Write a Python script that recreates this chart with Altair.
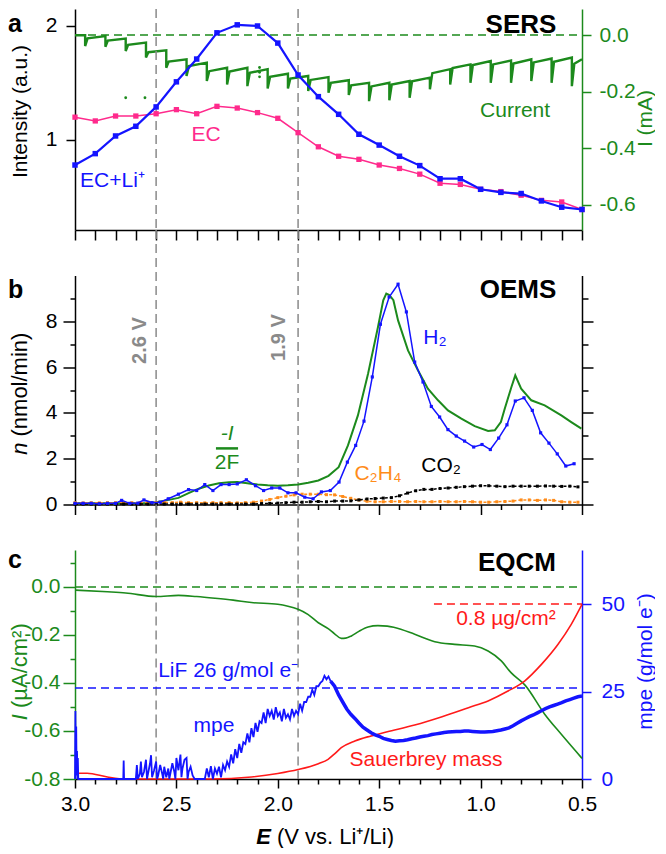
import altair as alt
import pandas as pd

FONT = "Liberation Sans, Arial, Helvetica, sans-serif"
BLUE = "#1414ff"
PINK = "#ff2a8c"
GREEN = "#1c8a1c"
ORANGE = "#ff8c1a"
RED = "#ff1a1a"
GRAY = "#8a8a8a"
BLACK = "#000000"

W = 507
HA = 221
HB = 229
HC = 229

# ---------------- data ----------------
x_ticks = [3.0, 2.9, 2.8, 2.7, 2.6, 2.5, 2.4, 2.3, 2.2, 2.1, 2.0, 1.9, 1.8, 1.7, 1.6,
           1.5, 1.4, 1.3, 1.2, 1.1, 1.0, 0.9, 0.8, 0.7, 0.6, 0.5]
marker_lines = [2.6, 1.9]

# panel a: SERS
sers_v = [3.0, 2.9, 2.8, 2.7, 2.6, 2.5, 2.4, 2.3, 2.2, 2.1, 2.0, 1.9, 1.8, 1.7, 1.6,
          1.5, 1.4, 1.3, 1.2, 1.1, 1.0, 0.9, 0.8, 0.7, 0.6, 0.5]
sers_ec_li = [0.78, 0.88, 1.035, 1.12, 1.29, 1.51, 1.71, 1.94, 2.01, 2.00, 1.85, 1.57, 1.38,
              1.225, 1.05, 0.955, 0.857, 0.775, 0.66, 0.66, 0.567, 0.54, 0.53, 0.465, 0.41, 0.39]
sers_ec = [1.20, 1.167, 1.21, 1.21, 1.23, 1.266, 1.23, 1.295, 1.28, 1.24, 1.19, 1.064, 0.94,
           0.857, 0.83, 0.78, 0.75, 0.70, 0.62, 0.61, 0.567, 0.547, 0.515, 0.47, 0.456, 0.39]

# panel a: stepped current (spike at each step, recovery, end of step), mA
cur_start = -0.001
step_v = [2.95, 2.85, 2.75, 2.65, 2.55, 2.45, 2.35, 2.25, 2.15, 2.05, 1.95, 1.85, 1.75,
          1.65, 1.55, 1.45, 1.35, 1.25, 1.15, 1.05, 0.95, 0.85, 0.75, 0.65, 0.55]
step_low = [-0.039, -0.042, -0.057, -0.080, -0.116, -0.145, -0.163, -0.175, -0.181, -0.189,
            -0.189, -0.198, -0.204, -0.212, -0.234, -0.231, -0.222, -0.192, -0.175, -0.169,
            -0.169, -0.169, -0.163, -0.169, -0.181]
step_rec = [-0.012, -0.020, -0.035, -0.061, -0.094, -0.110, -0.128, -0.129, -0.134, -0.148,
            -0.154, -0.159, -0.169, -0.178, -0.182, -0.175, -0.164, -0.135, -0.117, -0.106,
            -0.104, -0.101, -0.097, -0.095, -0.102]
step_end = [-0.004, -0.013, -0.027, -0.054, -0.086, -0.098, -0.116, -0.116, -0.121, -0.137,
            -0.145, -0.149, -0.160, -0.169, -0.169, -0.163, -0.151, -0.121, -0.104, -0.092,
            -0.090, -0.086, -0.083, -0.080, -0.086]
REC_DV = 0.012
stray_v = [2.75, 2.655, 2.09, 2.09, 2.09]
stray_i = [-0.222, -0.222, -0.115, -0.132, -0.148]

# panel b: OEMS
flux_v = [3.00, 2.80, 2.65, 2.60, 2.55, 2.49, 2.44, 2.39, 2.34, 2.29, 2.24, 2.20, 2.15, 2.10,
          2.05, 2.00, 1.95, 1.90, 1.85, 1.80, 1.75, 1.70, 1.654, 1.605, 1.555, 1.506, 1.48,
          1.465, 1.45, 1.43, 1.407, 1.358, 1.309, 1.26, 1.21, 1.161, 1.095, 1.029, 0.963,
          0.93, 0.90, 0.881, 0.848, 0.829, 0.80, 0.75, 0.684, 0.602, 0.553, 0.503]
flux_n = [0.05, 0.05, 0.07, 0.10, 0.18, 0.29, 0.50, 0.69, 0.83, 0.93, 0.97, 0.98, 0.93, 0.87,
          0.84, 0.82, 0.84, 0.87, 0.95, 1.05, 1.25, 1.63, 2.58, 3.89, 5.71, 7.75, 8.92, 9.21,
          9.15, 8.92, 8.04, 6.73, 5.86, 5.06, 4.55, 4.11, 3.75, 3.42, 3.21, 3.24, 3.6, 4.18,
          5.13, 5.64, 5.06, 4.55, 4.33, 3.89, 3.6, 3.31]
h2_v = [3.00, 2.96, 2.92, 2.88, 2.84, 2.80, 2.77, 2.73, 2.69, 2.66, 2.62, 2.58, 2.54, 2.49,
        2.44, 2.40, 2.36, 2.32, 2.28, 2.24, 2.20, 2.155, 2.11, 2.07, 2.03, 1.99, 1.95, 1.91,
        1.867, 1.826, 1.785, 1.741, 1.698, 1.657, 1.616, 1.575, 1.534, 1.494, 1.451, 1.407,
        1.366, 1.325, 1.284, 1.243, 1.202, 1.161, 1.12, 1.079, 1.034, 0.993, 0.952, 0.911,
        0.870, 0.829, 0.786, 0.745, 0.704, 0.663, 0.622, 0.580, 0.539]
h2_n = [0.05, 0.05, 0.05, 0.03, 0.05, 0.05, 0.18, 0.05, 0.06, 0.2, 0.08, 0.1, 0.25, 0.45,
        0.65, 0.61, 0.87, 0.61, 0.87, 0.87, 0.9, 1.08, 0.82, 0.61, 0.72, 0.72, 0.51, 0.51,
        0.32, 0.25, 0.55, 0.61, 0.98, 1.85, 2.58, 3.64, 5.57, 7.87, 9.06, 9.62, 8.41, 6.22,
        5.35, 4.28, 3.82, 3.27, 2.99, 2.77, 2.51, 2.62, 2.40, 2.90, 3.48, 4.52, 4.66, 4.11,
        3.13, 2.68, 2.21, 1.68, 1.78]
gas_v = [3.00, 2.96, 2.92, 2.88, 2.84, 2.80, 2.76, 2.72, 2.68, 2.64, 2.60, 2.56, 2.52, 2.48,
         2.44, 2.40, 2.36, 2.32, 2.28, 2.24, 2.20, 2.16, 2.12, 2.08, 2.04, 2.00, 1.96, 1.92,
         1.88, 1.84, 1.80, 1.76, 1.72, 1.68, 1.64, 1.60, 1.56, 1.52, 1.48, 1.44, 1.40, 1.36,
         1.32, 1.28, 1.24, 1.20, 1.16, 1.12, 1.08, 1.04, 1.00, 0.96, 0.92, 0.88, 0.84, 0.80,
         0.76, 0.72, 0.68, 0.64, 0.60, 0.56, 0.52]
c2h4_n = [0.08, 0.07, 0.08, 0.07, 0.08, 0.08, 0.07, 0.08, 0.08, 0.1, 0.08, 0.1, 0.08, 0.1,
          0.08, 0.08, 0.07, 0.08, 0.08, 0.08, 0.07, 0.08, 0.1, 0.15, 0.22, 0.3, 0.36, 0.42,
          0.45, 0.45, 0.45, 0.43, 0.42, 0.35, 0.27, 0.2, 0.14, 0.12, 0.12, 0.13, 0.13, 0.12,
          0.13, 0.12, 0.12, 0.13, 0.12, 0.12, 0.13, 0.12, 0.1, 0.1, 0.12, 0.13, 0.15, 0.2,
          0.2, 0.18, 0.2, 0.18, 0.12, 0.1, 0.1]
co2_n = [0.02, 0.02, 0.02, 0.02, 0.02, 0.02, 0.02, 0.02, 0.02, 0.02, 0.02, 0.02, 0.02, 0.02,
         0.02, 0.02, 0.02, 0.02, 0.02, 0.02, 0.02, 0.02, 0.02, 0.04, 0.05, 0.06, 0.08, 0.1,
         0.1, 0.12, 0.13, 0.12, 0.15, 0.15, 0.16, 0.2, 0.24, 0.26, 0.28, 0.3, 0.38, 0.5,
         0.6, 0.66, 0.66, 0.7, 0.72, 0.75, 0.78, 0.8, 0.82, 0.82, 0.8, 0.78, 0.8, 0.8,
         0.8, 0.8, 0.81, 0.8, 0.79, 0.8, 0.77]

# panel c: EQCM
eq_i_v = [3.0, 2.84, 2.75, 2.60, 2.49, 2.40, 2.31, 2.22, 2.13, 2.00, 1.95, 1.90, 1.85, 1.80,
          1.75, 1.72, 1.687, 1.665, 1.637, 1.60, 1.555, 1.506, 1.46, 1.424, 1.325, 1.226,
          1.128, 1.03, 0.963, 0.898, 0.85, 0.78, 0.684, 0.602, 0.5]
eq_i = [-0.013, -0.02, -0.025, -0.04, -0.035, -0.04, -0.047, -0.055, -0.065, -0.072, -0.08,
        -0.093, -0.115, -0.149, -0.175, -0.195, -0.214, -0.213, -0.204, -0.185, -0.167,
        -0.161, -0.163, -0.169, -0.197, -0.228, -0.239, -0.246, -0.267, -0.308, -0.357,
        -0.41, -0.53, -0.614, -0.714]
mass_v = [3.0, 2.94, 2.84, 2.75, 2.33, 2.13, 2.0, 1.9, 1.8, 1.752, 1.72, 1.687, 1.62, 1.54,
          1.46, 1.325, 1.19, 1.06, 0.963, 0.865, 0.783, 0.70, 0.618, 0.553, 0.5]
mass_ug = [0.026, 0.026, 0.009, 0.0, 0.0, 0.009, 0.025, 0.043, 0.07, 0.09, 0.115, 0.143,
           0.174, 0.197, 0.216, 0.247, 0.285, 0.326, 0.357, 0.402, 0.448, 0.524, 0.616,
           0.707, 0.798]
mpe_noisy_v = [3.000, 2.998, 2.996, 2.994, 2.992, 2.990, 2.988, 2.986, 2.984,
               2.762, 2.760, 2.758,
               2.70, 2.695, 2.69, 2.68, 2.675, 2.67, 2.66, 2.65, 2.645, 2.64, 2.63, 2.625,
               2.62, 2.61, 2.60, 2.595, 2.59, 2.58, 2.57, 2.565, 2.56, 2.55, 2.54, 2.535,
               2.53, 2.52, 2.51, 2.505, 2.50, 2.49, 2.48, 2.475, 2.47, 2.46, 2.45, 2.445,
               2.44, 2.43, 2.42, 2.41,
               2.36, 2.35, 2.34, 2.33, 2.32, 2.31, 2.30, 2.29, 2.28, 2.27, 2.26, 2.25,
               2.24, 2.23, 2.22, 2.21, 2.20, 2.19, 2.18, 2.17, 2.16, 2.15, 2.14, 2.13, 2.12,
               2.11, 2.10, 2.09, 2.08, 2.07, 2.06, 2.05, 2.04, 2.03, 2.02, 2.01, 2.00, 1.99,
               1.98, 1.97, 1.96, 1.95, 1.94, 1.93, 1.92, 1.91, 1.90, 1.89, 1.88, 1.87, 1.86,
               1.85, 1.84, 1.83, 1.82, 1.81, 1.80, 1.79, 1.78, 1.77, 1.76, 1.75, 1.74]
mpe_noisy = [0, 19.4, 3, 15, 1, 8, 0, 6, 0,
             0, 5.3, 0,
             0, 4, 0, 1.5, 5, 0.5, 2, 5.5, 0, 1.5, 4.5, 6.8,
             0.5, 2.5, 5, 0, 1, 4, 1.5, 0, 3.5, 0.5, 3, 0,
             1.5, 4.5, 2, 0, 6, 2.5, 7, 0.5, 3, 5.5, 6, 0,
             2, 3.5, 1, 0,
             0, 3, 0.5, 3.7, 0, 3, 1.5, 3.5, 0.5, 4, 2.5, 5,
             3.5, 7, 4.5, 8.5, 6, 10, 7.5, 10.5, 10, 13, 10.5, 14.5, 12,
             16, 13.5, 16.5, 16, 19, 16, 20, 18, 19.5, 17, 20.5, 18, 19,
             16.5, 20, 17.5, 18.5, 17, 20, 18, 19.5, 18.5, 21.5, 19.5, 22, 22,
             23.5, 23.5, 25.5, 24, 26.5, 26.5, 27.5, 28, 29.5, 28.5, 29.3, 28]
mpe_smooth_v = [1.74, 1.72, 1.70, 1.68, 1.66, 1.64, 1.62, 1.60, 1.58, 1.56, 1.54, 1.52, 1.50,
                1.48, 1.46, 1.44, 1.42, 1.40, 1.38, 1.36, 1.34, 1.32, 1.30, 1.28, 1.26, 1.24,
                1.22, 1.20, 1.18, 1.16, 1.14, 1.12, 1.10, 1.08, 1.06, 1.04, 1.02, 1.00, 0.98,
                0.96, 0.94, 0.92, 0.90, 0.88, 0.86, 0.84, 0.82, 0.80, 0.78, 0.76, 0.74, 0.72,
                0.70, 0.68, 0.66, 0.64, 0.62, 0.60, 0.58, 0.56, 0.54, 0.52, 0.50]
mpe_smooth = [28, 26.5, 24, 22, 20, 18.5, 17.3, 16, 14.8, 14, 13.2, 12.6, 12.2, 11.6, 11.3, 11,
              10.8, 10.9, 11, 11.2, 11.5, 11.7, 12, 12.2, 12.4, 12.7, 12.9, 13.1, 13.3, 13.4,
              13.5, 13.6, 13.6, 13.7, 13.7, 13.6, 13.5, 13.4, 13.4, 13.5, 13.6, 13.8, 14, 14.3,
              14.6, 15.2, 15.9, 16.6, 17.2, 17.8, 18.3, 18.9, 19.5, 20.1, 20.6, 21, 21.4, 21.8,
              22.3, 22.7, 23.1, 23.5, 23.7]
lif_mpe = 26
mass_ref = 0.8

# ---------------- frames ----------------
ONE = pd.DataFrame({"k": [0]})
df_sers = pd.DataFrame({"v": sers_v, "ecli": sers_ec_li, "ec": sers_ec})
rows = [(3.0, cur_start), (step_v[0], cur_start)]
for i, v in enumerate(step_v):
    nxt = step_v[i + 1] if i + 1 < len(step_v) else 0.5
    rows += [(v, step_low[i]), (v - REC_DV, step_rec[i]), (nxt, step_end[i])]
df_cur = pd.DataFrame(rows, columns=["v", "i"])
df_cur["o"] = range(len(df_cur))
df_stray = pd.DataFrame({"v": stray_v, "i": stray_i})
df_vl = pd.DataFrame({"v": marker_lines})
df_flux = pd.DataFrame({"v": flux_v, "n": flux_n})
df_h2 = pd.DataFrame({"v": h2_v, "n": h2_n})
df_gas = pd.DataFrame({"v": gas_v, "c2h4": c2h4_n, "co2": co2_n})
df_eqi = pd.DataFrame({"v": eq_i_v, "i": eq_i})
df_mass = pd.DataFrame({"v": mass_v, "m": mass_ug})
df_mpen = pd.DataFrame({"v": mpe_noisy_v, "m": mpe_noisy})
df_mpen["o"] = range(len(df_mpen))
df_mpes = pd.DataFrame({"v": mpe_smooth_v, "m": mpe_smooth})

# ---------------- scales & axes ----------------
xs = alt.Scale(domain=[0.5, 3.0], reverse=True, nice=False, zero=False)
MAJOR_X = "abs(datum.value * 2 - round(datum.value * 2)) < 0.01"
MAJOR_Y5 = "abs(datum.value * 5 - round(datum.value * 5)) < 0.01"
HYPH = "(datum.value < -0.001 ? '-' : '') + format(abs(datum.value), '.1f')"

ax_xa = alt.Axis(values=x_ticks, labels=False, tickSize=10, tickWidth=1.5, domainWidth=1.5,
                 tickColor=BLACK, domainColor=BLACK, title=None, grid=False)
ax_xb = alt.Axis(values=x_ticks, labels=False,
                 tickSize={"condition": {"test": MAJOR_X, "value": 10}, "value": 5},
                 tickWidth=1.5, domainWidth=1.5, tickColor=BLACK, domainColor=BLACK,
                 title=None, grid=False)
ax_xc = alt.Axis(values=x_ticks,
                 tickSize={"condition": {"test": MAJOR_X, "value": 9}, "value": 5},
                 labelExpr=MAJOR_X + " ? format(datum.value, '.1f') : ''",
                 labelFontSize=21, labelColor=BLACK, labelPadding=5, labelFlush=False,
                 tickWidth=1.5, domainWidth=1.5, tickColor=BLACK, domainColor=BLACK,
                 title=None, grid=False)

ys_int = alt.Scale(domain=[0.21, 2.149], nice=False, zero=False)
ys_cur = alt.Scale(domain=[-0.69, 0.092], nice=False, zero=False)
ax_int = alt.Axis(orient="left", values=[1, 2], format="d", tickSize=9, tickWidth=1.5,
                  domainWidth=1.5, domainColor=BLACK, tickColor=BLACK, labelColor=BLACK,
                  labelFontSize=21, labelPadding=9, grid=False,
                  title="Intensity (a.u.)", titleX=-55, titleY=102, titleAngle=270,
                  titleAlign="center", titleBaseline="middle", titleFontSize=21,
                  titleFontWeight="normal", titleColor=BLACK)
ax_cur = alt.Axis(orient="right", values=[0.0, -0.2, -0.4, -0.6], labelExpr=HYPH,
                  tickSize=9, tickWidth=1.5, domainWidth=1.5, domainColor=GREEN,
                  tickColor=GREEN, labelColor=GREEN, labelFontSize=21, labelPadding=8,
                  grid=False, title="I (mA)", titleX=63, titleY=109, titleAngle=270,
                  titleAlign="center", titleBaseline="middle", titleFontSize=21,
                  titleFontWeight="normal", titleColor=GREEN)

ys_n = alt.Scale(domain=[0, 10], nice=False, zero=False)
n_ticks = [0, 1, 2, 3, 4, 5, 6, 7, 8, 9]
ax_n = alt.Axis(orient="left", values=n_ticks,
                tickSize={"condition": {"test": "datum.value % 2 == 0", "value": 12}, "value": 5},
                labelExpr="datum.value % 2 == 0 ? datum.label : ''",
                tickWidth=1.5, domainWidth=1.5, domainColor=BLACK, tickColor=BLACK,
                labelColor=BLACK, labelFontSize=21, labelPadding=6, grid=False, title=None)
ax_n_mirror = alt.Axis(orient="right", values=n_ticks, labels=False,
                       tickSize={"condition": {"test": "datum.value % 2 == 0", "value": 11},
                                 "value": 6},
                       tickWidth=1.5, domainWidth=1.5, domainColor=BLACK, tickColor=BLACK,
                       grid=False, title=None)

ys_i = alt.Scale(domain=[-0.8, 0.154], nice=False, zero=False)
ys_mpe = alt.Scale(domain=[0, 65.43], nice=False, zero=False)
ys_mass = alt.Scale(domain=[0, 1.047], nice=False, zero=False)
i_ticks = [-0.8, -0.7, -0.6, -0.5, -0.4, -0.3, -0.2, -0.1, 0.0, 0.1]
ax_i = alt.Axis(orient="left", values=i_ticks,
                tickSize={"condition": {"test": MAJOR_Y5, "value": 12}, "value": 5},
                labelExpr="(" + MAJOR_Y5 + ") ? (" + HYPH + ") : ''",
                tickWidth=1.5, domainWidth=1.5, domainColor=GREEN, tickColor=GREEN,
                labelColor=GREEN, labelFontSize=21, labelPadding=3, grid=False, title=None)
ax_mpe = alt.Axis(orient="right", values=[0, 25, 50], tickSize=9, tickWidth=1.5,
                  domainWidth=1.5, domainColor=BLUE, tickColor=BLUE, labelColor=BLUE,
                  labelFontSize=21, labelPadding=10, grid=False,
                  title="mpe (g/mol e\u207b)", titleX=63, titleY=111, titleAngle=270,
                  titleAlign="center", titleBaseline="middle", titleFontSize=21,
                  titleFontWeight="normal", titleColor=BLUE)


def txt(x, y, s, color, xax, ysc, yax, size=21, **kw):
    return alt.Chart(ONE).mark_text(text=s, color=color, fontSize=size, font=FONT, **kw).encode(
        x=alt.XDatum(x, type="quantitative", scale=xs, axis=xax),
        y=alt.YDatum(y, type="quantitative", scale=ysc, axis=yax))


def ptxt(x, y, s, color, size=21, **kw):
    return alt.Chart(ONE).mark_text(text=s, color=color, fontSize=size, font=FONT, **kw).encode(
        x=alt.value(x), y=alt.value(y))


def vlines(xax, top, h):
    return alt.Chart(df_vl).mark_rule(color=GRAY, strokeDash=[9, 5], strokeWidth=1.5).encode(
        x=alt.X("v:Q", scale=xs, axis=xax), y=alt.value(top), y2=alt.value(h))


# ---------------- panel a ----------------
xa = alt.X("v:Q", scale=xs, axis=ax_xa)
left_a = alt.layer(
    vlines(ax_xa, 0, HA),
    alt.Chart(df_sers).mark_line(color=PINK, strokeWidth=1.5).encode(
        x=xa, y=alt.Y("ec:Q", scale=ys_int, axis=ax_int)),
    alt.Chart(df_sers).mark_point(shape="square", filled=True, size=28, color=PINK, opacity=1).encode(
        x=xa, y=alt.Y("ec:Q", scale=ys_int, axis=ax_int)),
    alt.Chart(df_sers).mark_line(color=BLUE, strokeWidth=2.2).encode(
        x=xa, y=alt.Y("ecli:Q", scale=ys_int, axis=ax_int)),
    alt.Chart(df_sers).mark_point(shape="square", filled=True, size=30, color=BLUE, opacity=1).encode(
        x=xa, y=alt.Y("ecli:Q", scale=ys_int, axis=ax_int)),
    txt(2.975, 0.64, "EC+Li\u207a", BLUE, ax_xa, ys_int, ax_int, align="left", baseline="middle"),
    txt(2.354, 1.044, "EC", PINK, ax_xa, ys_int, ax_int, align="center", baseline="middle"),
    ptxt(-67, 23, "a", BLACK, size=25, fontWeight="bold", align="left", baseline="alphabetic"),
    ptxt(446, 24, "SERS", BLACK, size=26, fontWeight="bold", align="center", baseline="alphabetic"),
)
right_a = alt.layer(
    alt.Chart(ONE).mark_rule(color=GREEN, strokeDash=[8, 5], strokeWidth=1.5).encode(
        x=alt.value(0), x2=alt.value(W),
        y=alt.YDatum(0, type="quantitative", scale=ys_cur, axis=ax_cur)),
    alt.Chart(df_cur).mark_line(color=GREEN, strokeWidth=2.4).encode(
        x=xa, y=alt.Y("i:Q", scale=ys_cur, axis=ax_cur), order="o:Q"),
    alt.Chart(df_stray).mark_circle(color=GREEN, size=8, opacity=1).encode(
        x=xa, y=alt.Y("i:Q", scale=ys_cur, axis=ax_cur)),
    txt(0.83, -0.269, "Current", GREEN, ax_xa, ys_cur, ax_cur, align="center", baseline="middle"),
)
pa = alt.layer(right_a, left_a).resolve_scale(y="independent").properties(width=W, height=HA)

# ---------------- panel b ----------------
xb = alt.X("v:Q", scale=xs, axis=ax_xb)
pb = alt.layer(
    vlines(ax_xb, -45.5, HB),
    alt.Chart(df_flux).mark_line(color=GREEN, strokeWidth=2).encode(
        x=xb, y=alt.Y("n:Q", scale=ys_n, axis=ax_n)),
    alt.Chart(df_h2).mark_point(opacity=0).encode(
        x=xb, y=alt.Y("n:Q", scale=ys_n, axis=ax_n_mirror)),
    alt.Chart(df_gas).mark_line(color=ORANGE, strokeWidth=1.5, strokeDash=[3, 2]).encode(
        x=xb, y=alt.Y("c2h4:Q", scale=ys_n, axis=None)),
    alt.Chart(df_gas).mark_point(shape="square", filled=True, size=9, color=ORANGE, opacity=1).encode(
        x=xb, y=alt.Y("c2h4:Q", scale=ys_n, axis=None)),
    alt.Chart(df_gas).mark_line(color=BLACK, strokeWidth=1.5, strokeDash=[3, 2]).encode(
        x=xb, y=alt.Y("co2:Q", scale=ys_n, axis=None)),
    alt.Chart(df_gas).mark_point(shape="square", filled=True, size=9, color=BLACK, opacity=1).encode(
        x=xb, y=alt.Y("co2:Q", scale=ys_n, axis=None)),
    alt.Chart(df_h2).mark_line(color=BLUE, strokeWidth=1.5).encode(
        x=xb, y=alt.Y("n:Q", scale=ys_n, axis=None)),
    alt.Chart(df_h2).mark_point(shape="square", filled=True, size=10, color=BLUE, opacity=1).encode(
        x=xb, y=alt.Y("n:Q", scale=ys_n, axis=None)),
    alt.Chart(ONE).mark_rule(color=GREEN, strokeWidth=2.5).encode(
        x=alt.XDatum(2.305, type="quantitative", scale=xs, axis=ax_xb),
        x2=alt.X2Datum(2.196),
        y=alt.YDatum(2.45, type="quantitative", scale=ys_n, axis=None)),
    txt(2.25, 3.10, "-I", GREEN, ax_xb, ys_n, None, align="center", baseline="middle",
        fontStyle="italic"),
    txt(2.25, 1.83, "2F", GREEN, ax_xb, ys_n, None, align="center", baseline="middle"),
    txt(2.68, 7.16, "2.6 V", GRAY, ax_xb, ys_n, None, size=20, fontWeight="bold",
        angle=270, align="center", baseline="middle"),
    txt(1.994, 7.29, "1.9 V", GRAY, ax_xb, ys_n, None, size=20, fontWeight="bold",
        angle=270, align="center", baseline="middle"),
    txt(1.225, 7.29, "H\u2082", BLUE, ax_xb, ys_n, None, align="center", baseline="middle"),
    txt(1.506, 1.35, "C\u2082H\u2084", ORANGE, ax_xb, ys_n, None, align="center", baseline="middle"),
    txt(1.195, 1.66, "CO\u2082", BLACK, ax_xb, ys_n, None, align="center", baseline="middle"),
    ptxt(-67, 22.5, "b", BLACK, size=25, fontWeight="bold", align="left", baseline="alphabetic"),
    ptxt(443, 22.5, "OEMS", BLACK, size=26, fontWeight="bold", align="center", baseline="alphabetic"),
    ptxt(-55, 167, "n", BLACK, size=22, fontStyle="italic", angle=270, align="right",
         baseline="middle"),
    ptxt(-55, 161, "(nmol/min)", BLACK, size=22, angle=270, align="left",
         baseline="middle"),
).resolve_axis(y="independent").properties(width=W, height=HB)

# ---------------- panel c ----------------
xc = alt.X("v:Q", scale=xs, axis=ax_xc)
left_c = alt.layer(
    vlines(ax_xc, -45.5, HC),
    alt.Chart(ONE).mark_rule(color=GREEN, strokeDash=[8, 5], strokeWidth=1.5).encode(
        x=alt.value(0), x2=alt.value(W),
        y=alt.YDatum(0, type="quantitative", scale=ys_i, axis=ax_i)),
    alt.Chart(df_eqi).mark_line(color=GREEN, strokeWidth=1.6, interpolate="monotone").encode(
        x=xc, y=alt.Y("i:Q", scale=ys_i, axis=ax_i)),
    ptxt(-67, 18, "c", BLACK, size=25, fontWeight="bold", align="left", baseline="alphabetic"),
    ptxt(442, 21, "EQCM", BLACK, size=26, fontWeight="bold", align="center", baseline="alphabetic"),
    ptxt(-55, 164, "I", GREEN, size=22, fontStyle="italic", angle=270, align="right",
         baseline="middle"),
    ptxt(-55, 158, "(\u00b5A/cm\u00b2)", GREEN, size=22, angle=270, align="left",
         baseline="middle"),
    ptxt(196, 294, "E", BLACK, size=22, fontStyle="italic", fontWeight="bold", align="right",
         baseline="alphabetic"),
    ptxt(202, 294, "(V vs. Li\u207a/Li)", BLACK, size=22, align="left",
         baseline="alphabetic"),
)
mass_c = alt.layer(
    alt.Chart(ONE).mark_rule(color=RED, strokeDash=[8, 5], strokeWidth=1.5).encode(
        x=alt.XDatum(1.23, type="quantitative", scale=xs, axis=ax_xc),
        x2=alt.X2Datum(0.5),
        y=alt.YDatum(mass_ref, type="quantitative", scale=ys_mass, axis=None)),
    alt.Chart(df_mass).mark_line(color=RED, strokeWidth=1.6, interpolate="monotone").encode(
        x=xc, y=alt.Y("m:Q", scale=ys_mass, axis=None)),
)
right_c = alt.layer(
    alt.Chart(ONE).mark_rule(color=BLUE, strokeDash=[8, 5], strokeWidth=1.5).encode(
        x=alt.value(0), x2=alt.value(W),
        y=alt.YDatum(lif_mpe, type="quantitative", scale=ys_mpe, axis=ax_mpe)),
    alt.Chart(df_mpen).mark_line(color=BLUE, strokeWidth=1.8).encode(
        x=xc, y=alt.Y("m:Q", scale=ys_mpe, axis=ax_mpe), order="o:Q"),
    alt.Chart(df_mpes).mark_line(color=BLUE, strokeWidth=3.5).encode(
        x=xc, y=alt.Y("m:Q", scale=ys_mpe, axis=ax_mpe)),
    txt(2.59, 30.9, "LiF 26 g/mol e\u207b", BLUE, ax_xc, ys_mpe, ax_mpe, align="left",
        baseline="middle"),
    txt(2.315, 15.1, "mpe", BLUE, ax_xc, ys_mpe, ax_mpe, align="center", baseline="middle"),
    txt(1.269, 5.4, "Sauerbrey mass", RED, ax_xc, ys_mpe, ax_mpe, align="center",
        baseline="middle"),
    txt(0.875, 45.7, "0.8 \u00b5g/cm\u00b2", RED, ax_xc, ys_mpe, ax_mpe, align="center",
        baseline="middle"),
)
pc = alt.layer(left_c, mass_c, right_c).resolve_scale(y="independent").properties(
    width=W, height=HC)

chart = alt.vconcat(pa, pb, pc, spacing=45.5, bounds="flush").properties(
    padding={"left": 0, "top": 0, "right": 0, "bottom": 0},
    background="white",
).configure_view(stroke=None).configure_axis(
    labelFont=FONT, titleFont=FONT, grid=False
).configure_text(font=FONT)

chart.save("out.html", embed_options={"renderer": "svg", "actions": False})
